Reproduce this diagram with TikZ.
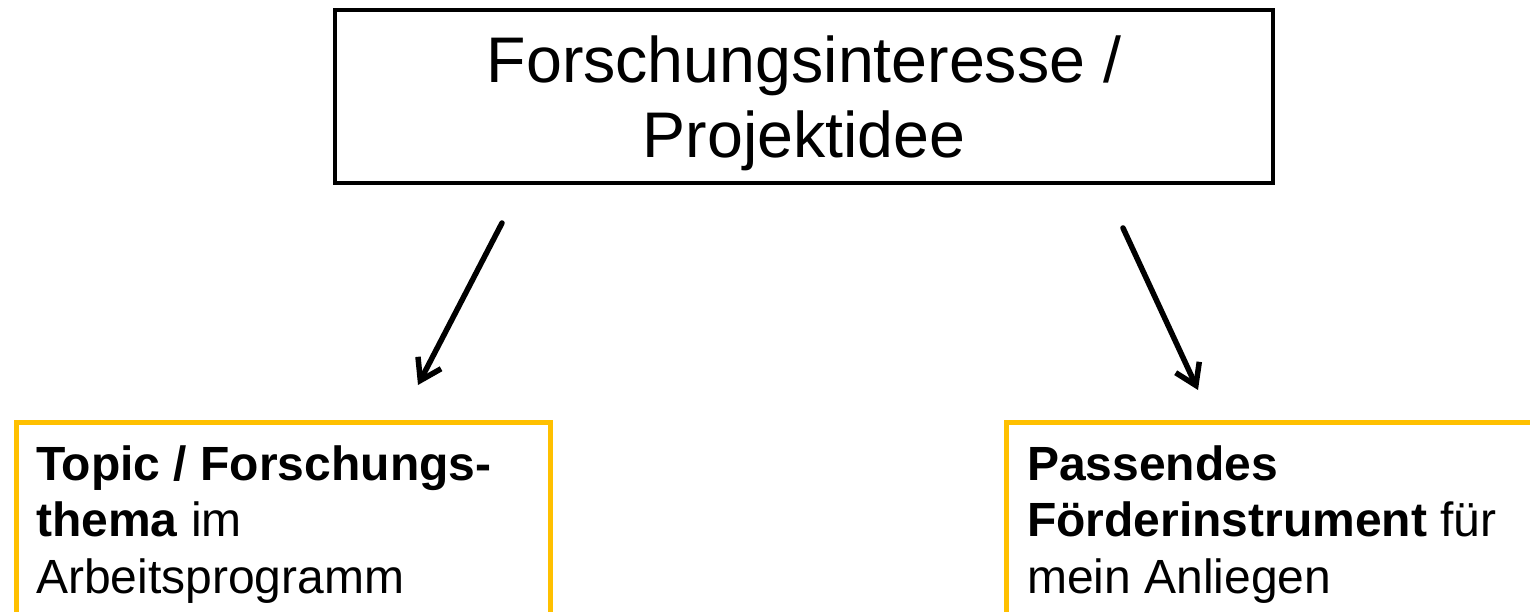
\documentclass[tikz,border=0pt]{standalone}
\usepackage{fontspec}
\setmainfont{Liberation Sans}
\usetikzlibrary{arrows.meta}
\definecolor{gold}{HTML}{FFC000}
\begin{document}
\begin{tikzpicture}[x=1pt,y=-1pt,
  topbox/.style={draw=black, line width=4.5pt, minimum width=938pt, minimum height=173pt, inner sep=0pt},
  goldbox/.style={draw=gold, line width=5pt, inner sep=0pt},
  bigtxt/.style={font=\fontsize{64.5}{75}\selectfont, inner sep=0pt, anchor=base},
  smalltxt/.style={font=\fontsize{48}{56}\selectfont, inner sep=0pt, anchor=base west},
  conn/.style={line width=5.5pt, line cap=round, -{Straight Barb[length=20pt,width=26pt]}}]
\useasboundingbox (0,0) rectangle (1530,612);
\clip (0,0) rectangle (1530,612);
\fill[white] (0,0) rectangle (1530,612);
% top box
\node[topbox] (top) at (804,96.5) {};
\node[bigtxt] (t1) at (804,82.5) {Forschungsinteresse /};
\node[bigtxt] (t2) at (804,157.5) {Projektidee};
% lower boxes
\node[goldbox, minimum width=533.5pt, minimum height=227.5pt] (left) at (283.25,536.25) {};
\node[goldbox, minimum width=563.5pt, minimum height=227.5pt] (right) at (1288.25,536.25) {};
\node[smalltxt] (l1) at (36,480) {\textbf{Topic / Forschungs-}};
\node[smalltxt] (l2) at (36,536.7) {\textbf{thema} im};
\node[smalltxt] (l3) at (36,593) {Arbeitsprogramm};
\node[smalltxt] (r1) at (1027,480) {\textbf{Passendes}};
\node[smalltxt] (r2) at (1027,536.7) {\textbf{Förderinstrument} für};
\node[smalltxt] (r3) at (1027,593) {mein Anliegen};
% arrows
\coordinate (la) at (502,223);
\coordinate (lb) at (418,385);
\coordinate (ra) at (1123,228);
\coordinate (rb) at (1198,390);
\draw[conn] (la) -- (lb);
\draw[conn] (ra) -- (rb);
\end{tikzpicture}
\end{document}
